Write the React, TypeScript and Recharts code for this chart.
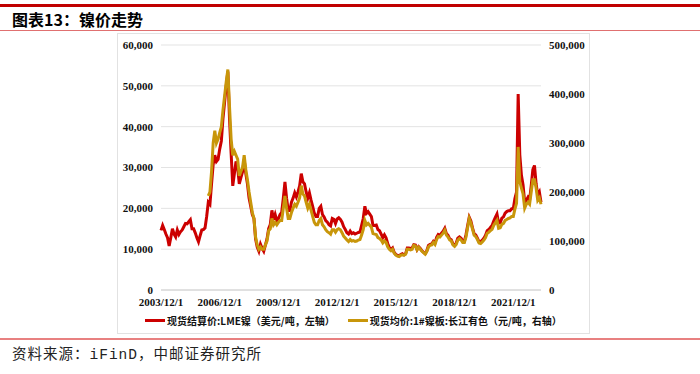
import { LineChart, Line, XAxis, YAxis, CartesianGrid, Legend } from 'recharts'

// monthly, 2003/12 .. 2023/5
const months: string[] = []
for (let i = 0; i < 234; i++) {
  const y = 2003 + Math.floor((11 + i) / 12)
  const m = ((11 + i) % 12) + 1
  months.push(`${y}/${m}/1`)
}

// 现货结算价:LME镍 (美元/吨)
const lmeNickel = [
  14600,
  15800, 14800, 13700, 12800, 10800, 12800, 15000, 13700, 13000, 14700, 13600, 14300,
  14700, 15500, 16300, 16200, 16700, 17200, 15000, 15000, 14000, 12800, 11800, 13300,
  14700, 14800, 15200, 18000, 21500, 21000, 26000, 30800, 33000, 31500, 32000, 34500,
  36500, 42000, 46000, 50000, 53500, 42000, 33500, 25500, 28500, 31500, 30000, 26000,
  27500, 29000, 32000, 28500, 26000, 22500, 20500, 18500, 17500, 12500, 10500, 9500,
  11200, 10200, 9500, 11000, 12500, 15000, 16000, 19500, 17200, 18500, 17000, 17500,
  18500, 19000, 22500, 26500, 22500, 19500, 19500, 21500, 22500, 23800, 22800, 24000,
  25500, 28500, 26500, 26000, 24000, 22500, 23800, 22000, 20500, 18800, 18000, 18000,
  20000, 20500, 18500, 17900, 17000, 16600, 16000, 15700, 17500, 17300, 16300, 17400,
  17700, 17300, 16600, 15500, 14800, 14000, 13700, 14400, 13800, 14000, 13700, 13900,
  14100, 14200, 15800, 17500, 20500, 18800, 19200, 18600, 18000, 15800, 15800, 15900,
  14800, 14500, 13700, 12800, 13500, 12800, 11400, 10400, 9900, 10300, 9200, 8700,
  8500, 8300, 8700, 8900, 8600, 8900, 10300, 10300, 10200, 10300, 11100, 11000,
  9900, 10600, 10200, 9600, 9200, 8900, 9600, 10900, 11200, 11300, 11900, 11500,
  12900, 13600, 13400, 13900, 14400, 15100, 13800, 13400, 12500, 12300, 11300, 10900,
  11500, 12700, 13000, 12700, 12000, 11900, 13500, 15700, 17800, 16900, 15200, 13800,
  13500, 12700, 11800, 11800, 12200, 12700, 13400, 14500, 14800, 15300, 15800, 16900,
  17800, 18600, 16400, 16500, 17600, 17900, 18800, 19200, 19400, 19400, 19900, 19900,
  22400, 24000, 48000, 33100, 28100, 25700, 21500, 22000, 22700, 22000, 25500, 29500,
  30500, 26000, 23300, 24000, 21500,
]

// 现货均价:1#镍板:长江有色 (元/吨)
const cjNickel = [
  null,
  null, null, null, null, null, null, null, null, null, null, null, null,
  null, null, null, null, null, null, null, null, null, null, null, null,
  null, null, null, null, 192000, 200000, 242000, 300000, 325000, 300000, 308000, 321000,
  333000, 367000, 396000, 425000, 450000, 375000, 308000, 275000, 283000, 275000, 267000, 233000,
  242000, 250000, 275000, 246000, 225000, 200000, 179000, 158000, 146000, 108000, 92000, 83000,
  88000, 83000, 83000, 92000, 100000, 121000, 125000, 146000, 133000, 138000, 133000, 138000,
  142000, 142000, 167000, 192000, 167000, 146000, 146000, 158000, 167000, 175000, 171000, 179000,
  188000, 213000, 196000, 192000, 179000, 167000, 175000, 163000, 150000, 138000, 133000, 133000,
  142000, 146000, 133000, 129000, 123000, 119000, 117000, 114000, 123000, 123000, 118000, 123000,
  125000, 123000, 117000, 110000, 106000, 102000, 99000, 103000, 100000, 101000, 99000, 100000,
  102000, 103000, 112000, 123000, 142000, 133000, 136000, 132000, 128000, 115000, 114000, 113000,
  107000, 105000, 102000, 96000, 100000, 97000, 88000, 83000, 80000, 83000, 75000, 71000,
  69000, 68000, 71000, 72000, 71000, 73000, 83000, 83000, 82000, 83000, 91000, 90000,
  82000, 87000, 83000, 79000, 76000, 73000, 79000, 88000, 91000, 92000, 97000, 93000,
  103000, 109000, 108000, 112000, 116000, 122000, 112000, 108000, 102000, 100000, 92000, 89000,
  93000, 102000, 105000, 102000, 97000, 97000, 108000, 127000, 146000, 137000, 124000, 112000,
  109000, 103000, 96000, 95000, 98000, 102000, 107000, 116000, 118000, 121000, 124000, 132000,
  137000, 142000, 126000, 127000, 134000, 136000, 142000, 144000, 146000, 147000, 150000, 150000,
  165000, 177000, 292000, 221000, 208000, 196000, 167000, 175000, 179000, 175000, 200000, 225000,
  225000, 208000, 183000, 188000, 175000,
]

const leftTicks = [0, 10000, 20000, 30000, 40000, 50000, 60000]
const rightTicks = [0, 100000, 200000, 300000, 400000, 500000]

const data = months.map((date, i) => ({ date, lme: lmeNickel[i], cj: cjNickel[i] }))

const RED = '#CC0000'
const GOLD = '#C8960A'
const fmt = (v: number) => v.toLocaleString('en-US')
const tickStyle = { fill: '#111', fontSize: 11, fontFamily: '"Liberation Serif", serif', fontWeight: 700 }

const legendItems = [
  { color: RED, label: '现货结算价:LME镍（美元/吨，左轴）' },
  { color: GOLD, label: '现货均价:1#镍板:长江有色（元/吨，右轴）' },
]

function renderLegend() {
  return (
    <div style={{ display: 'flex', justifyContent: 'center', alignItems: 'center', height: 20, gap: 13 }}>
      {legendItems.map(it => (
        <div key={it.label} style={{ display: 'flex', alignItems: 'center' }}>
          <span style={{ display: 'inline-block', width: 20, height: 3, background: it.color, marginRight: 2 }} />
          <span style={{ fontSize: 10, fontWeight: 700, color: '#111', fontFamily: '"Noto Sans CJK SC", sans-serif' }}>
            {it.label}
          </span>
        </div>
      ))}
    </div>
  )
}

export default function App() {
  return (
    <div style={{ position: 'absolute', left: 0, top: 0, width: 700, height: 374, background: '#fff', overflow: 'hidden' }}>
      <div style={{ position: 'absolute', left: 0, top: 4, width: 700, height: 3, background: '#C00000' }} />
      <div style={{ position: 'absolute', left: 12, top: 8, fontSize: 16, fontWeight: 700, color: '#000', fontFamily: '"Noto Sans CJK SC", sans-serif', lineHeight: '22px' }}>
        图表13：镍价走势
      </div>
      <div style={{ position: 'absolute', left: 0, top: 30, width: 700, height: 1, background: '#E07070' }} />

      <div style={{ position: 'absolute', left: 117, top: 33, width: 473, height: 301, boxSizing: 'border-box', border: '1px solid #E2E2E2' }} />
      <div style={{ position: 'absolute', left: 117, top: 33 }}>
        <LineChart width={473} height={301} data={data} margin={{ top: 12, right: 0, left: 0, bottom: 4 }}>
          <CartesianGrid vertical={false} stroke="#E3E3E3" />
          <XAxis
            dataKey="date"
            interval={35}
            axisLine={{ stroke: '#D0D0D0' }}
            tickLine={false}
            tick={tickStyle}
            height={20}
          />
          <YAxis
            domain={[0, 60000]}
            ticks={leftTicks}
            tickFormatter={fmt}
            axisLine={false}
            tickLine={false}
            tick={tickStyle}
            width={44}
          />
          <YAxis
            yAxisId="right"
            orientation="right"
            domain={[0, 500000]}
            ticks={rightTicks}
            tickFormatter={fmt}
            axisLine={false}
            tickLine={false}
            tick={{ ...tickStyle, textAnchor: 'start' }}
            width={49}
          />
          <Legend verticalAlign="bottom" height={20} content={renderLegend} />
          <Line dataKey="lme" stroke={RED} strokeWidth={3} dot={false} isAnimationActive={false} />
          <Line yAxisId="right" dataKey="cj" stroke={GOLD} strokeWidth={3} dot={false} connectNulls={false} isAnimationActive={false} />
        </LineChart>
      </div>

      <div style={{ position: 'absolute', left: 0, top: 338, width: 700, height: 1.5, background: '#E88080' }} />
      <div style={{ position: 'absolute', left: 12, top: 345, fontSize: 14.5, letterSpacing: 1, color: '#222', fontFamily: '"Liberation Mono", "Noto Sans CJK SC", monospace', lineHeight: '20px' }}>
        资料来源：iFinD，中邮证券研究所
      </div>
    </div>
  )
}
